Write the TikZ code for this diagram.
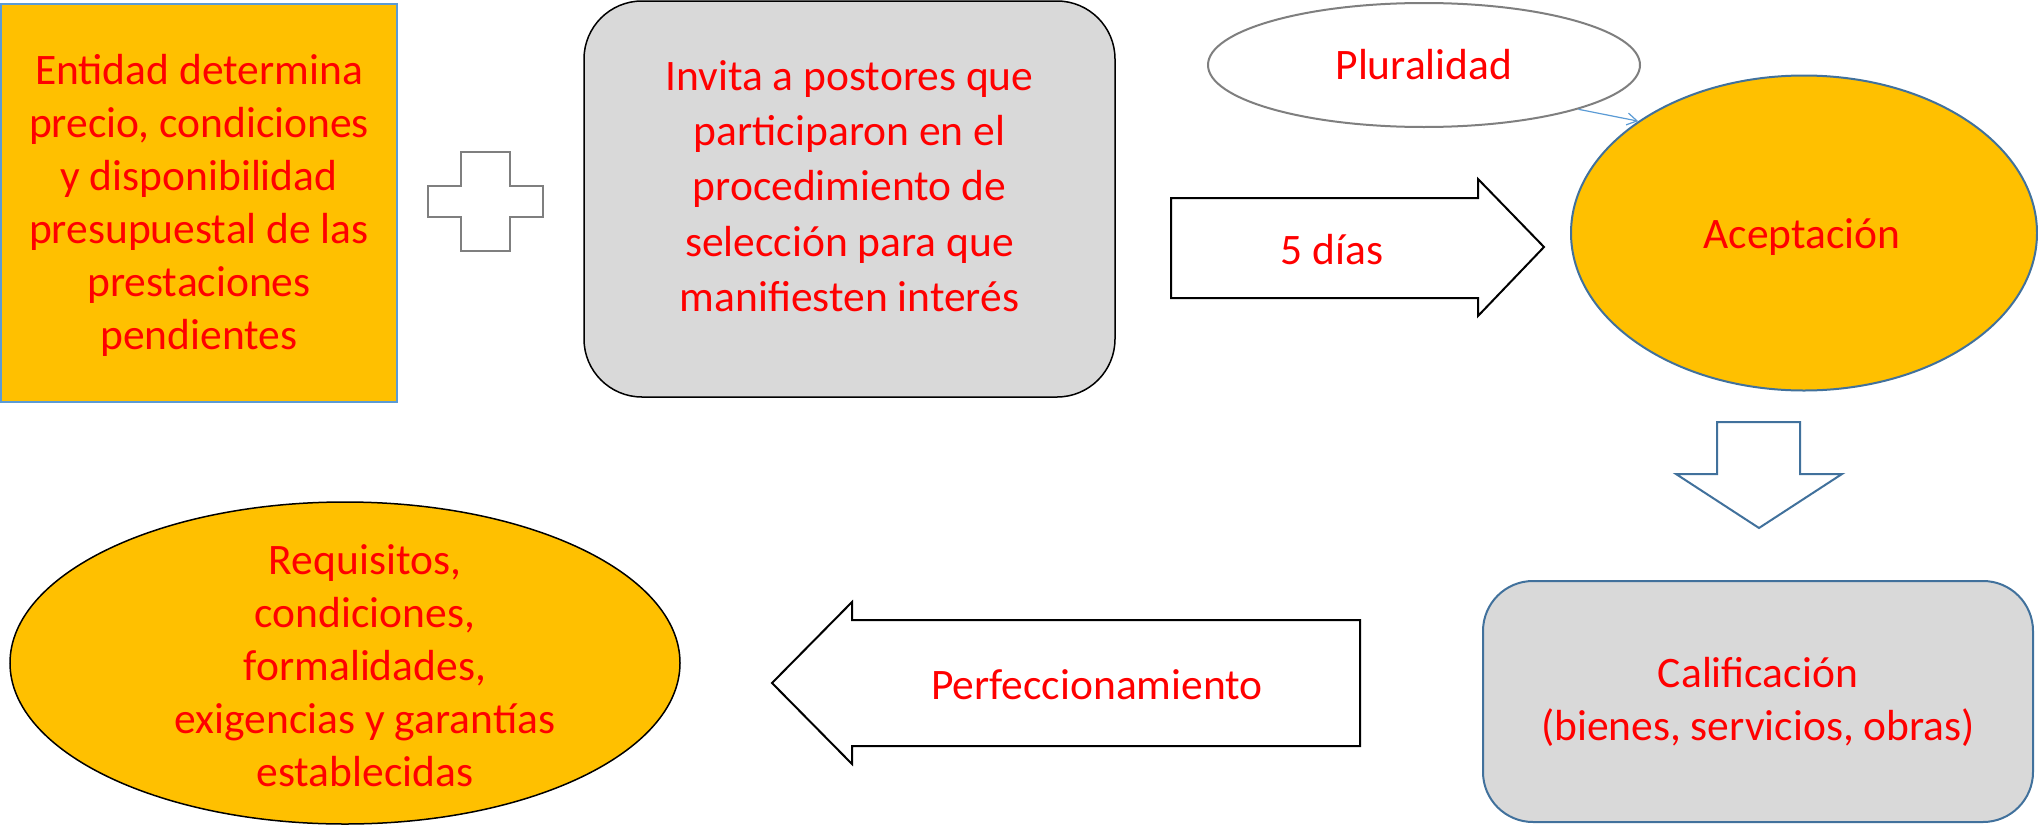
\documentclass[tikz,border=0pt]{standalone}
\usepackage{fontspec}
\setmainfont{Carlito}
\usetikzlibrary{shapes.geometric,arrows.meta}
\definecolor{orangefill}{HTML}{FFC000}
\definecolor{grayfill}{HTML}{D9D9D9}
\definecolor{lightblue}{HTML}{5B9BD5}
\definecolor{darkblue}{HTML}{41719C}
\definecolor{txtred}{HTML}{FF0000}
\definecolor{grayline}{HTML}{7F7F7F}
\tikzset{
  txt/.style={text=txtred, align=center, inner sep=0pt, font=\fontsize{43.5}{53}\selectfont},
  blockarrow/.style={line width=2pt, line join=miter},
}
\begin{document}
\begin{tikzpicture}[x=1pt,y=-1pt]
\useasboundingbox (0,0) rectangle (2038,825);
% Box 1
\node[draw=lightblue, line width=2pt, fill=orangefill, minimum width=396pt, minimum height=398pt, inner sep=0pt] (entidad) at (199,203) {};
\node[txt] (entidadtxt) at (199,205) {Entidad determina\\precio, condiciones\\y disponibilidad\\presupuestal de las\\prestaciones\\pendientes};
% plus
\draw[draw=grayline, line width=2pt, fill=white] (461,152) -- (510,152) -- (510,186) -- (543,186) -- (543,217) -- (510,217) -- (510,251) -- (461,251) -- (461,217) -- (428,217) -- (428,186) -- (461,186) -- cycle;
% Box 2
\node[draw=black, line width=1.5pt, fill=grayfill, rounded corners=58pt, minimum width=531pt, minimum height=396pt, inner sep=0pt] (invita) at (849.5,199) {};
\node[txt, font=\fontsize{43.5}{55.3}\selectfont] (invitatxt) at (849.5,186) {Invita a postores que\\participaron en el\\procedimiento de\\selección para que\\manifiesten interés};
% Pluralidad
\node[ellipse, draw=grayline, line width=2pt, fill=white, minimum width=432pt, minimum height=124pt, inner sep=0pt] (plural) at (1424,65) {};
\node[txt] (pluraltxt) at (1424,65) {Pluralidad};
% Aceptacion
\node[ellipse, draw=darkblue, line width=2pt, fill=orangefill, minimum width=466pt, minimum height=315pt, inner sep=0pt] (acept) at (1804,233) {};
\node[txt] (acepttxt) at (1802,237) {Aceptación};
\draw[draw=lightblue, line width=1.2pt, -{Straight Barb[length=10pt,width=12pt]}] (plural.-16) -- (acept.146);
% 5 dias arrow
\draw[blockarrow, draw=black, fill=white] (1171,198) -- (1478,198) -- (1478,179) -- (1544,247) -- (1478,316) -- (1478,298) -- (1171,298) -- cycle;
\node[txt] (dias) at (1332,250) {5 días};
% down arrow
\draw[blockarrow, draw=darkblue, fill=white] (1717,422) -- (1800,422) -- (1800,474) -- (1842,474) -- (1759,528) -- (1676,474) -- (1717,474) -- cycle;
% Calificacion
\node[draw=darkblue, line width=2pt, fill=grayfill, rounded corners=50pt, minimum width=550pt, minimum height=241pt, inner sep=0pt] (calif) at (1758,701.5) {};
\node[txt] (califtxt) at (1758,702) {Calificación\\(bienes, servicios, obras)};
% Perfeccionamiento arrow
\draw[blockarrow, draw=black, fill=white] (1360,620) -- (852,620) -- (852,602) -- (772,683) -- (852,764) -- (852,746) -- (1360,746) -- cycle;
\node[txt] (perf) at (1097,685) {Perfeccionamiento};
% Requisitos
\node[ellipse, draw=black, line width=1.5pt, fill=orangefill, minimum width=670pt, minimum height=322pt, inner sep=0pt] (req) at (345,663) {};
\node[txt] (reqtxt) at (365,666) {Requisitos,\\condiciones,\\formalidades,\\exigencias y garantías\\establecidas};
\end{tikzpicture}
\end{document}
